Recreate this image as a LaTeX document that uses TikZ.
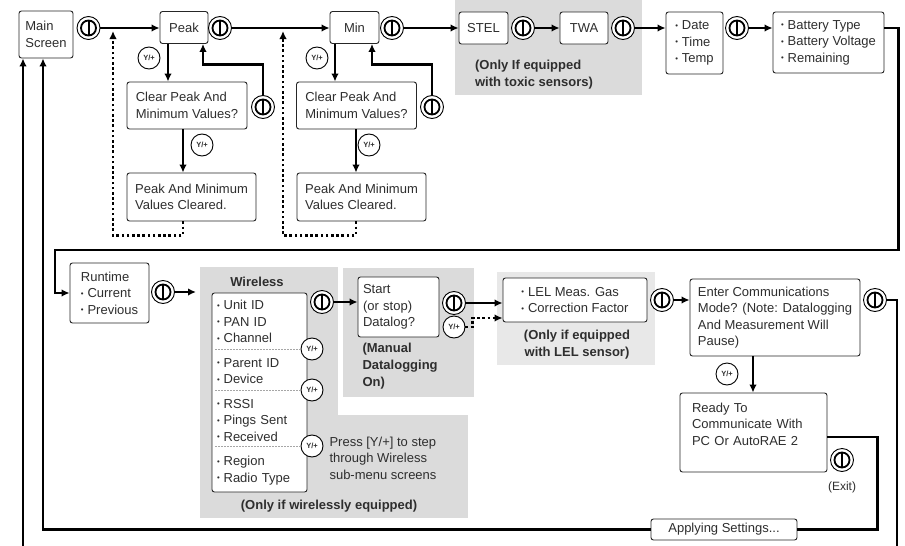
\documentclass[tikz,border=0pt]{standalone}
\usepackage{fontspec}
\setmainfont{Liberation Sans}
\usepackage{graphicx}
\usetikzlibrary{arrows.meta}
\newcommand\bul{\raisebox{0.12em}{\scalebox{0.6}{\textbullet}}\hspace{0.3em}}
\begin{document}
\begin{tikzpicture}[x=1pt,y=-1pt,
  every node/.style={font=\fontsize{13}{16.5}\selectfont, text=black!82},
  box/.style={draw=black!85, line width=0.9pt, rounded corners=2.5pt, fill=white, inner xsep=6pt, inner ysep=3pt, align=left},
  pwr/.style={circle, draw, line width=0.9pt, minimum size=23pt, inner sep=0pt, fill=white,
    path picture={
      \draw[line width=1.8pt] (path picture bounding box.center) circle[radius=7.5pt];
      \draw[line width=2pt] ([yshift=-7.5pt]path picture bounding box.center) -- ([yshift=7.5pt]path picture bounding box.center);}},
  yp/.style={circle, draw, line width=0.9pt, minimum size=22pt, inner sep=0pt, fill=white, font=\fontsize{7.5}{7.5}\selectfont\bfseries},
  flow/.style={line width=2.6pt, -{Latex[length=8pt,width=7.5pt]}},
  flowline/.style={line width=2.6pt},
  dots/.style={line width=2.6pt, dash pattern=on 2.6pt off 2.6pt, -{Latex[length=8pt,width=7.5pt]}},
  note/.style={font=\fontsize{13}{17}\selectfont\bfseries, align=left},
  greyzone/.style={fill=black!14},
  greylight/.style={fill=black!9},
  sep/.style={draw=black!35, line width=0.6pt, dash pattern=on 1.5pt off 1.5pt},
]
\useasboundingbox (0,0) rectangle (905,546);
\fill[white] (0,0) rectangle (905,546);
% grey zones
\fill[greyzone] (455,0) rectangle (642,95);
\fill[greyzone] (200,267) rectangle (338,518);
\fill[greyzone] (338,415) rectangle (468,518);
\fill[greyzone] (343,268) rectangle (474,397);
\fill[greylight] (497,272) rectangle (655,365);

% top row
\node[box, minimum width=54pt, minimum height=47pt] (main) at (46,34.5) {Main\\Screen};
\node[pwr] (p0) at (88.5,28) {};
\node[box, minimum width=48pt, minimum height=32pt, align=center] (peak) at (184,27.5) {Peak};
\node[pwr] (p1) at (220,28) {};
\node[box, minimum width=49pt, minimum height=32pt, align=center] (minb) at (354.5,27.5) {Min};
\node[pwr] (p2) at (392,28) {};
\node[box, minimum width=49pt, minimum height=32pt, align=center] (stel) at (483.5,28) {STEL};
\node[pwr] (p3) at (523,28) {};
\node[box, minimum width=48pt, minimum height=32pt, align=center] (twa) at (584,28) {TWA};
\node[pwr] (p4) at (623,28) {};
\node[box, minimum width=57pt, minimum height=62pt] (date) at (694.5,43) {\bul Date\\\bul Time\\\bul Temp};
\node[pwr] (p5) at (737,28) {};
\node[box, minimum width=111pt, minimum height=61pt, inner xsep=3pt] (batt) at (828.5,42.5) {\bul Battery Type\\\bul Battery Voltage\\\bul Remaining};
\node[note] (toxic) at (534,75) {(Only If equipped\\with toxic sensors)};

% peak group
\node[box, minimum width=120pt, minimum height=47pt] (clear1) at (187,105.5) {Clear Peak And\\Minimum Values?};
\node[pwr] (pc1) at (263,107) {};
\node[box, minimum width=129pt, minimum height=48pt] (cleared1) at (191.5,197) {Peak And Minimum\\Values Cleared.};
\node[yp] (y1) at (149,58) {Y/+};
\node[yp] (y2) at (202,145) {Y/+};

% min group
\node[box, minimum width=120pt, minimum height=47pt] (clear2) at (356.5,105.5) {Clear Peak And\\Minimum Values?};
\node[pwr] (pc2) at (432,107) {};
\node[box, minimum width=129pt, minimum height=48pt] (cleared2) at (361.5,197) {Peak And Minimum\\Values Cleared.};
\node[yp] (y3) at (317,58) {Y/+};
\node[yp] (y4) at (369,145) {Y/+};

\coordinate (d1) at (113,31);
\coordinate (d2) at (283,31);

% lower row
\node[box, minimum width=79pt, minimum height=60pt] (runtime) at (109.5,293) {Runtime\\\bul Current\\\bul Previous};
\node[pwr] (pr) at (163,292) {};
\coordinate (wtip) at (196,292);
\node[note] (wlabel) at (257,282) {Wireless};
\node[box, minimum width=95pt, minimum height=199pt, text width=85pt, inner xsep=5pt] (wbox) at (259.5,392.5)
  {\bul Unit ID\\\bul PAN ID\\\bul Channel\\[8pt]\bul Parent ID\\\bul Device\\[8pt]\bul RSSI\\\bul Pings Sent\\\bul Received\\[8pt]\bul Region\\\bul Radio Type};
\draw[sep] (215,349) -- (300,349);
\draw[sep] (215,390) -- (300,390);
\draw[sep] (215,446) -- (300,446);
\node[pwr] (pw) at (322,302) {};
\node[yp] (yw1) at (312,349) {Y/+};
\node[yp] (yw2) at (312,390) {Y/+};
\node[yp] (yw3) at (312,446) {Y/+};
\node[align=left, anchor=west] (press) at (326,458) {Press [Y/+] to step\\through Wireless\\sub-menu screens};
\node[note] (wnote) at (329,506) {(Only if wirelessly equipped)};

\node[box, minimum width=81pt, minimum height=60pt, text width=71pt, inner xsep=5pt] (start) at (398.5,307) {Start\\(or stop)\\Datalog?};
\node[note, anchor=west] (mnote) at (359,366) {(Manual\\Datalogging\\On)};
\node[pwr] (ps) at (454,303) {};
\node[yp] (ys) at (454,327) {Y/+};

\node[box, minimum width=144pt, minimum height=44pt] (lel) at (575,300) {\bul LEL Meas. Gas\\\bul Correction Factor};
\node[note, align=center] (lnote) at (577,345) {(Only if equipped\\with LEL sensor)};
\node[pwr] (pl) at (662,300) {};

\node[box, minimum width=170pt, minimum height=77pt] (enter) at (775,317.5) {Enter Communications\\Mode? (Note: Datalogging\\And Measurement Will\\Pause)};
\node[pwr] (pe) at (875,300) {};
\node[yp] (ye) at (727,374) {Y/+};
\node[box, minimum width=147pt, minimum height=79pt, text width=123pt, inner xsep=12pt] (ready) at (753.5,432.5) {Ready To\\Communicate With\\PC Or AutoRAE 2\\\mbox{}};
\node[pwr] (px) at (842,460) {};
\node[font=\fontsize{12}{14}\selectfont] (exit) at (842,487) {(Exit)};
\node[box, minimum width=146pt, minimum height=21pt, inner ysep=1pt] (apply) at (724,529.5) {Applying Settings...};

\coordinate (rb) at (897,546);
\coordinate (lb) at (23,546);

% connectors top
\draw[flow] (p0.east) -- (p0.east -| peak.west);
\draw[flow] (p1.east) -- (p1.east -| minb.west);
\draw[flow] (p2.east) -- (p2.east -| stel.west);
\draw[flow] (p3.east) -- (p3.east -| twa.west);
\draw[flow] (p4.east) -- (p4.east -| date.west);
\draw[flow] (p5.east) -- (p5.east -| batt.west);
\draw[flow] (batt.east |- p5.east) -- ++(14,0) |- (55,250) |- (runtime.west);

\draw[flow] ([xshift=-16pt]peak.south) -- ([xshift=-16pt]peak.south |- clear1.north);
\draw[flow] (pc1.north) -- ++(0,-30.5) -| ([xshift=19pt]peak.south);
\draw[flow] ([xshift=-4pt]clear1.south) -- ([xshift=-4pt]clear1.south |- cleared1.north);
\draw[dots] ([xshift=-8.5pt]cleared1.south) -- ++(0,14) -| (d1);

\draw[flow] ([xshift=-19.5pt]minb.south) -- ([xshift=-19.5pt]minb.south |- clear2.north);
\draw[flow] (pc2.north) -- ++(0,-30.5) -| ([xshift=17.5pt]minb.south);
\draw[flow] ([xshift=-0.5pt]clear2.south) -- ([xshift=-0.5pt]clear2.south |- cleared2.north);
\draw[dots] ([xshift=-5.5pt]cleared2.south) -- ++(0,14) -| (d2);

% connectors bottom
\draw[flow] (pr.east) -- (wtip);
\draw[flow] (pw.east) -- (pw.east -| start.west);
\draw[flow] (ps.east) -- (ps.east -| lel.west);
\draw[dots] (ys.east) -- ++(7,0) |- ([yshift=-18pt]lel.west);
\draw[flow] (pl.east) -- (pl.east -| enter.west);
\draw[flowline] (pe.east) -| (rb);
\draw[flow] ([xshift=-22pt]enter.south) -- ([xshift=-22pt]enter.south |- ready.north);
\draw[flowline] ([yshift=-4.5pt]ready.east) -- ++(50,0) |- (apply.east);
\draw[flow] (apply.west) -| ([xshift=-3pt]main.south);
\draw[flow] (lb) -- ([xshift=-23pt]main.south);
\end{tikzpicture}
\end{document}
